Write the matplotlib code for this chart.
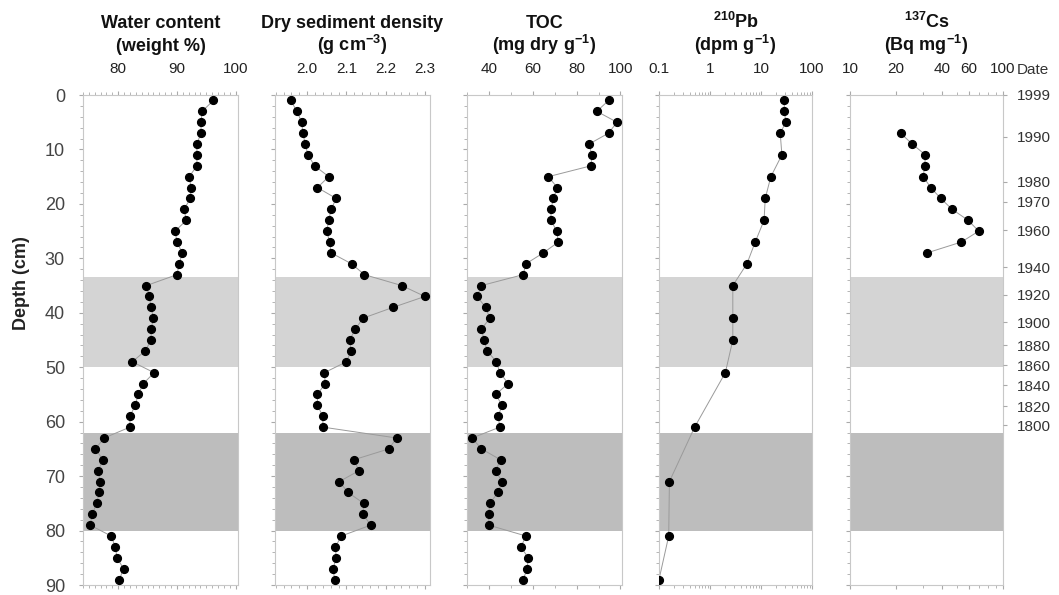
import numpy as np
import matplotlib
matplotlib.use('Agg')
import matplotlib.pyplot as plt
from matplotlib.ticker import MultipleLocator, FixedLocator, FixedFormatter, NullFormatter, LogLocator

plt.rcParams['font.family'] = ['Liberation Sans', 'DejaVu Sans']
plt.rcParams['mathtext.fontset'] = 'custom'
plt.rcParams['mathtext.rm'] = 'Liberation Sans'
plt.rcParams['mathtext.bf'] = 'Liberation Sans:bold'
plt.rcParams['mathtext.default'] = 'bf'

# 深度 (cm)
depth = [1, 3, 5, 7, 9, 11, 13, 15, 17, 19, 21, 23, 25, 27, 29, 31, 33, 35, 37, 39,
         41, 43, 45, 47, 49, 51, 53, 55, 57, 59, 61, 63, 65, 67, 69, 71, 73, 75, 77, 79,
         81, 83, 85, 87, 89]

water = [96.2, 94.3, 94.1, 94.1, 93.4, 93.4, 93.4, 92.1, 92.4, 92.3,
         91.2, 91.6, 89.7, 90.0, 90.9, 90.4, 90.0, 84.8, 85.3, 85.6,
         86.0, 85.6, 85.6, 84.6, 82.4, 86.1, 84.3, 83.4, 82.9, 82.0,
         82.0, 77.6, 76.1, 77.4, 76.6, 76.9, 76.8, 76.3, 75.6, 75.2,
         78.8, 79.5, 79.8, 80.9, 80.2]

density = [1.958, 1.974, 1.986, 1.989, 1.995, 2.002, 2.019, 2.055, 2.026, 2.074,
           2.061, 2.055, 2.050, 2.057, 2.061, 2.113, 2.146, 2.241, 2.300, 2.219,
           2.142, 2.123, 2.108, 2.112, 2.100, 2.044, 2.046, 2.026, 2.026, 2.040,
           2.040, 2.228, 2.208, 2.119, 2.132, 2.082, 2.104, 2.144, 2.142, 2.162,
           2.087, 2.072, 2.074, 2.066, 2.070]

toc = [94.6, 89.2, 98.4, 94.6, 85.7, 86.9, 86.6, 67.1, 71.2, 69.4,
       68.3, 68.3, 70.9, 71.7, 64.8, 56.9, 55.6, 36.6, 34.6, 38.5,
       40.4, 36.6, 37.8, 39.2, 43.4, 45.0, 48.8, 43.1, 46.0, 44.2,
       45.0, 32.3, 36.6, 45.3, 43.0, 46.0, 44.2, 40.4, 39.9, 39.9,
       56.9, 54.6, 57.9, 57.5, 55.6]

pb_depth = [1, 3, 5, 7, 11, 15, 19, 23, 27, 31, 35, 41, 45, 51, 61, 71, 81, 89]
pb210 = [28.6, 28.6, 30.8, 23.8, 25.7, 15.6, 12.1, 11.5, 7.7, 5.3, 2.8, 2.8, 2.8,
         2.0, 0.50, 0.16, 0.155, 0.1]

cs_depth = [7, 9, 11, 13, 15, 17, 19, 21, 23, 25, 27, 29]
cs137 = [21.4, 25.5, 31.1, 30.8, 30.1, 33.7, 39.2, 46.5, 59.1, 69.4, 53.5, 31.9]

date_labels = ['1999', '1990', '1980', '1970', '1960', '1940', '1920', '1900',
               '1880', '1860', '1840', '1820', '1800']
date_depth = [0, 7.7, 15.9, 19.6, 24.8, 31.6, 36.7, 41.7, 46.0, 49.6, 53.3, 57.2, 60.7]

bands = [(33.5, 50, '#d4d4d4'), (62, 80, '#bdbdbd')]

title_top = ['Water content', 'Dry sediment density', 'TOC', '$^{210}$Pb', '$^{137}$Cs']
title_bot = ['(weight %)', '(g cm$^{-3}$)', '(mg dry g$^{-1}$)', '(dpm g$^{-1}$)',
             '(Bq mg$^{-1}$)']

fig = plt.figure(figsize=(10.59, 5.95), dpi=100)
W, H = 1059.0, 595.0
lefts = [83, 275, 467, 659, 850]
widths = [155, 155, 155, 153, 153]
top, bottom = 95, 585

axes = []
for l, w in zip(lefts, widths):
    ax = fig.add_axes([l / W, 1 - bottom / H, w / W, (bottom - top) / H])
    axes.append(ax)

series = [(depth, water), (depth, density), (depth, toc), (pb_depth, pb210), (cs_depth, cs137)]
xlims = [(74.0, 100.4), (1.918, 2.313), (30, 100.7), (0.1, 100), (10, 100)]

for i, ax in enumerate(axes):
    for y0, y1, c in bands:
        ax.axhspan(y0, y1, color=c, lw=0, zorder=0)
    d, v = series[i]
    ax.plot(v, d, color='#9a9a9a', lw=0.7, zorder=2)
    ax.plot(v, d, 'o', color='black', ms=5.6, zorder=3)
    if i >= 3:
        ax.set_xscale('log')
    ax.set_xlim(xlims[i])
    ax.set_ylim(90, 0)
    for s in ax.spines.values():
        s.set_color('#c8c8c8')
        s.set_linewidth(0.8)
    ax.xaxis.set_ticks_position('both')
    ax.tick_params(axis='x', which='both', top=True, bottom=True, labeltop=True,
                   labelbottom=False, direction='out', length=3, color='#aaaaaa',
                   labelsize=11, labelcolor='#222222', pad=11)
    ax.tick_params(axis='x', which='minor', length=2)
    ax.yaxis.set_major_locator(MultipleLocator(10))
    ax.yaxis.set_minor_locator(MultipleLocator(2))
    ax.tick_params(axis='y', which='both', direction='out', length=3, color='#aaaaaa',
                   labelsize=13, labelcolor='#444444', pad=10)
    ax.tick_params(axis='y', which='minor', length=2)
    if i > 0:
        ax.tick_params(axis='y', labelleft=False)
    xc = (lefts[i] + widths[i] / 2) / W
    fig.text(xc, 1 - 28 / H, title_top[i], ha='center', va='baseline',
             fontsize=13, fontweight='bold', color='#111111')
    fig.text(xc, 1 - 51 / H, title_bot[i], ha='center', va='baseline',
             fontsize=13, fontweight='bold', color='#111111')

axes[0].xaxis.set_major_locator(FixedLocator([80, 90, 100]))
axes[0].xaxis.set_minor_locator(MultipleLocator(1))
axes[1].xaxis.set_major_locator(FixedLocator([2.0, 2.1, 2.2, 2.3]))
axes[1].xaxis.set_major_formatter(FixedFormatter(['2.0', '2.1', '2.2', '2.3']))
axes[1].xaxis.set_minor_locator(MultipleLocator(0.02))
axes[2].xaxis.set_major_locator(FixedLocator([40, 60, 80, 100]))
axes[2].xaxis.set_minor_locator(MultipleLocator(10))
axes[3].xaxis.set_major_locator(FixedLocator([0.1, 1, 10, 100]))
axes[3].xaxis.set_major_formatter(FixedFormatter(['0.1', '1', '10', '100']))
axes[3].xaxis.set_minor_locator(LogLocator(subs=np.arange(2, 10)))
axes[3].xaxis.set_minor_formatter(NullFormatter())
axes[4].xaxis.set_major_locator(FixedLocator([10, 20, 40, 60, 100]))
axes[4].xaxis.set_major_formatter(FixedFormatter(['10', '20', '40', '60', '100']))
axes[4].xaxis.set_minor_locator(LogLocator(subs=np.arange(2, 10)))
axes[4].xaxis.set_minor_formatter(NullFormatter())

# 右侧年代轴
axd = axes[4].twinx()
axd.set_ylim(90, 0)
axd.yaxis.set_major_locator(FixedLocator(date_depth))
axd.yaxis.set_major_formatter(FixedFormatter(date_labels))
axd.tick_params(axis='y', direction='out', length=3, color='#aaaaaa', labelsize=11,
                labelcolor='#333333', pad=7)
for s in axd.spines.values():
    s.set_visible(False)
fig.text(1017 / W, 1 - 70 / H, 'Date', ha='left', va='center',
         fontsize=11, color='#333333')

fig.text(22 / W, 1 - 283 / H, 'Depth (cm)', rotation=90, ha='center', va='center',
         fontsize=13, fontweight='bold', color='#222222')

fig.savefig('out.png', dpi=100)
